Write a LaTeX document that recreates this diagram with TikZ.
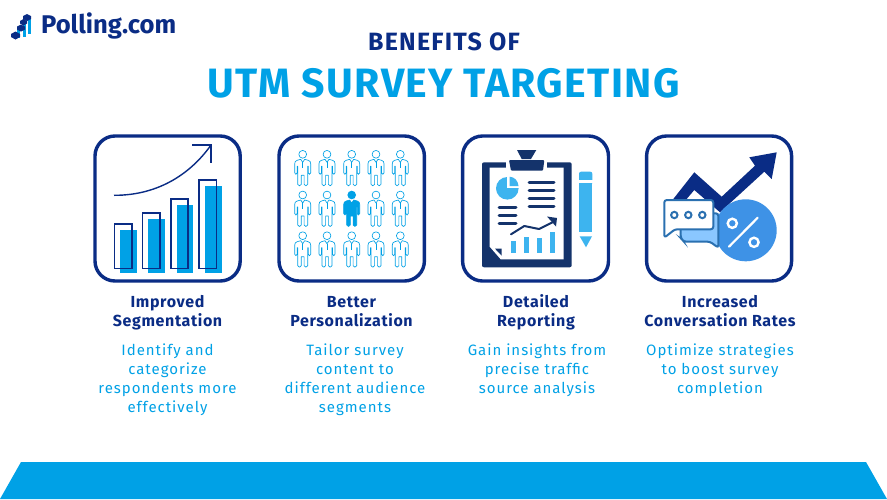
\documentclass[tikz,border=0pt]{standalone}
\usepackage{fontspec}
\setmainfont{Fira Sans}[LetterSpace=0]
\newfontfamily\bodyfont{Fira Sans}[LetterSpace=6.5]
\newfontfamily\headfont{Fira Sans}[LetterSpace=4]
\newfontfamily\titlefont{Fira Sans}[LetterSpace=3.3]
\newfontfamily\subtitlefont{Fira Sans}[LetterSpace=5]
\definecolor{navy}{HTML}{0A2C85}
\definecolor{sky}{HTML}{00A1E6}
\definecolor{board}{HTML}{14336B}
\definecolor{lightsky}{HTML}{3DB4EF}
\definecolor{pct}{HTML}{3E92E6}
\definecolor{chatline}{HTML}{2A70B0}
\definecolor{chatfill}{HTML}{8AC7FF}
\tikzset{
  x=1pt,y=-1pt,
  card/.style={draw=navy,line width=3.4pt,rounded corners=20pt,fill=white},
  head/.style={font=\headfont\bfseries\fontsize{16}{18.8}\selectfont,text=navy,align=center,anchor=north,inner sep=0pt,text height=11pt},
  body/.style={font=\bodyfont\fontsize{15}{19}\selectfont,text=sky,align=center,anchor=north},
  bar/.style={draw=navy,line width=1.6pt},
  barfill/.style={fill=sky},
  rule/.style={draw=board,line width=3pt,line cap=round},
  person/.style={draw=sky,line width=.65pt,line join=round},
}
\newcommand{\personpath}{
  (-2,5) -- (-5.5,6) .. controls (-7.3,6.6) and (-8,7.5) .. (-8,9.5) -- (-8,18.5)
  .. controls (-8,20.5) and (-5.6,20.5) .. (-5.6,18.5) -- (-5.6,12) -- (-5,12) -- (-5,30)
  .. controls (-5,32) and (-1.4,32) .. (-1.4,30) -- (-1.4,21) -- (1.4,21) -- (1.4,30)
  .. controls (1.4,32) and (5,32) .. (5,30) -- (5,12) -- (5.6,12) -- (5.6,18.5)
  .. controls (5.6,20.5) and (8,20.5) .. (8,18.5) -- (8,9.5)
  .. controls (8,7.5) and (7.3,6.6) .. (5.5,6) -- (2,5) -- (0,8) -- cycle
}
\begin{document}
\begin{tikzpicture}
\useasboundingbox (0,0) rectangle (887,499);
\fill[white] (0,0) rectangle (887,499);
% band
\fill[sky] (0,499) -- (21,462) -- (866,462) -- (887,499) -- cycle;
% logo
\node[anchor=base west,inner sep=0pt,font=\bfseries\fontsize{25.6}{28}\selectfont,text=navy] (logo) at (41,33.5) {Polling.com};
\fill[sky] (16.5,29) rectangle (19.5,38);
\fill[sky] (23,23) rectangle (25.5,37);
\fill[sky] (28,17) rectangle (31,34);
\fill[navy] (11,34) -- (15.5,31.5) -- (20,34) -- (20,37) -- (15.5,39.5) -- (11,37) -- cycle;
\fill[navy] (17,26.5) -- (21,24.5) -- (25,26.5) -- (25,29.5) -- (21,31.5) -- (17,29.5) -- cycle;
\fill[navy] (20,21) -- (23.5,19) -- (27,21) -- (27,23.5) -- (23.5,25.5) -- (20,23.5) -- cycle;
\fill[navy] (23,16) -- (27,14) -- (31,16) -- (31,19) -- (27,21) -- (23,19) -- cycle;
% titles
\node[inner sep=0pt,font=\subtitlefont\bfseries\fontsize{25}{28}\selectfont,text=navy] (t1) at (444,42) {BENEFITS OF};
\node[inner sep=0pt,font=\titlefont\bfseries\fontsize{41}{46}\selectfont,text=sky] (t2) at (443.7,83) {UTM SURVEY TARGETING};
% cards
\draw[card] (95,136) rectangle (240.2,281);
\draw[card] (279,136) rectangle (424.4,281);
\draw[card] (462.6,136) rectangle (608.5,281);
\draw[card] (646.6,136) rectangle (791.6,281);
% card 1
\fill[barfill] (120,230) rectangle (136.7,273.3);
\fill[barfill] (148.3,219.3) rectangle (165,273.3);
\fill[barfill] (176.7,205) rectangle (193.3,273.3);
\fill[barfill] (205,186) rectangle (221.7,273.3);
\draw[bar] (114.3,223.7) rectangle (131.7,268.3);
\draw[bar] (142.3,213) rectangle (159.7,268.3);
\draw[bar] (170.7,199) rectangle (188,268.3);
\draw[bar] (199,179.7) rectangle (216.3,268.3);
\draw[navy,line width=1.4pt] (114,195.3) .. controls (160,195.5) and (192,172) .. (211,145);
\draw[navy,line width=1.4pt] (192.3,145) -- (211,145) -- (211,163.3);
% card 2
\foreach \cx in {302.7,327,351.7,376,400.3}
  \foreach \cy in {154.3,195,235.7}{
    \draw[person] (\cx,\cy) circle (3.9pt);
    \begin{scope}[shift={(\cx,\cy)}]
      \draw[person] \personpath;
      \draw[person] (0,8) -- (0,14);
    \end{scope}
  }
\fill[white] (342,190) rectangle (361,228);
\begin{scope}[shift={(351.7,195)}]
  \fill[sky] (0,0) circle (4.3pt);
  \fill[sky,draw=sky,line width=.6pt,line join=round] \personpath;
\end{scope}
% card 3
\fill[board,rounded corners=2pt] (482,162.3) rectangle (571.7,267.3);
\fill[white] (489.7,167.7) -- (563.7,167.7) -- (563.7,259.3) -- (500.7,259.3) -- (489.7,246.7) -- cycle;
\fill[white] (506,160) rectangle (547,172);
\fill[board] (517,150) -- (536.3,150) -- (531,159) -- (521.7,159) -- cycle;
\fill[board,rounded corners=1pt] (509,160) -- (544.3,160) -- (543,170.7) -- (511,170.7) -- cycle;
\fill[board] (495,248.7) -- (501.5,248.7) -- (501.5,255.5) -- cycle;
% pie
\fill[lightsky] (507.3,188.3) circle (11.3pt);
\fill[white] (507.3,188.3) -- (507.3,175) -- (520,175) -- (520,188.3) -- cycle;
\fill[lightsky] (509.5,176.7) .. controls (514.5,177) and (518,180.5) .. (518.5,186) -- (509.5,186) -- cycle;
\draw[rule] (529,182.3) -- (554,182.3);
\draw[rule] (529,190.3) -- (554,190.3);
\draw[rule] (529,198) -- (554,198);
\draw[rule] (529,206) -- (554,206);
\draw[rule] (499,207.3) -- (516,207.3);
\draw[rule] (499,215.3) -- (516,215.3);
\draw[rule] (499,223.3) -- (516,223.3);
\draw[board,line width=2pt,line cap=round,line join=round] (511,234.3) -- (524.3,226) -- (539,229) -- (553,222);
\fill[board] (547,216.5) -- (557,218) -- (556,226.5) -- cycle;
\fill[lightsky] (511,240.7) rectangle (516.3,253.3);
\fill[lightsky] (524,236.7) rectangle (529,253.3);
\fill[lightsky] (536.7,238.3) rectangle (542,253.3);
\fill[lightsky] (549.7,232.3) rectangle (555,253.3);
\fill[lightsky,rounded corners=2pt] (579,171.7) rectangle (592.3,185);
\fill[white] (578,180) rectangle (593,182.7);
\fill[lightsky] (579,182.7) rectangle (592.3,232.3);
\fill[lightsky] (579.7,236.3) -- (592,236.3) -- (586,247.3) -- cycle;
% card 4
\fill[navy] (673.3,199) -- (694.3,172.3) -- (721.7,196.7) -- (755,165.7) -- (749.3,157.3) -- (776.7,152.3) -- (771.7,179) -- (764.3,171.7) -- (720,212.3) -- (694.3,190) -- (679,208) -- cycle;
\fill[pct] (745.7,230.3) circle (31pt);
\draw[chatline,line width=2pt,fill=chatfill,rounded corners=2.5pt] (680.7,213.3) -- (718.3,213.3) -- (718.3,247.7) -- (718.3,247.7) -- (710,241.7) -- (684,241.7) -- (680.7,238) -- cycle;
\draw[chatline,line width=2pt,fill=white,line join=round,rounded corners=2.5pt] (664.3,200) -- (713.3,200) -- (713.3,229.3) -- (675,229.3) -- (664.3,237.7) -- cycle;
\foreach \dx in {674.3,688.3,702.3}
  \draw[chatline,line width=2pt] (\dx,215) circle (3.2pt);
\draw[white,line width=2.4pt] (732.3,223.3) circle (4.6pt);
\draw[white,line width=2.4pt] (754,242.3) circle (4.6pt);
\draw[white,line width=2.2pt,line cap=round] (757.7,217.7) -- (729,246.7);
% labels
\node[head] (h1) at (167.5,315.5) {Improved\\Segmentation};
\node[head] (h2) at (351.5,315.5) {Better\\Personalization};
\node[head] (h3) at (536,315.5) {Detailed\\Reporting};
\node[head] (h4) at (720,315.5) {Increased\\Conversation Rates};
\node[body] (b1) at (167.5,340) {Identify and\\categorize\\respondents more\\effectively};
\node[body] (b2) at (355,340) {Tailor survey\\content to\\different audience\\segments};
\node[body] (b3) at (537,340) {Gain insights from\\precise traffic\\source analysis};
\node[body] (b4) at (720,340) {Optimize strategies\\to boost survey\\completion};
\end{tikzpicture}
\end{document}
